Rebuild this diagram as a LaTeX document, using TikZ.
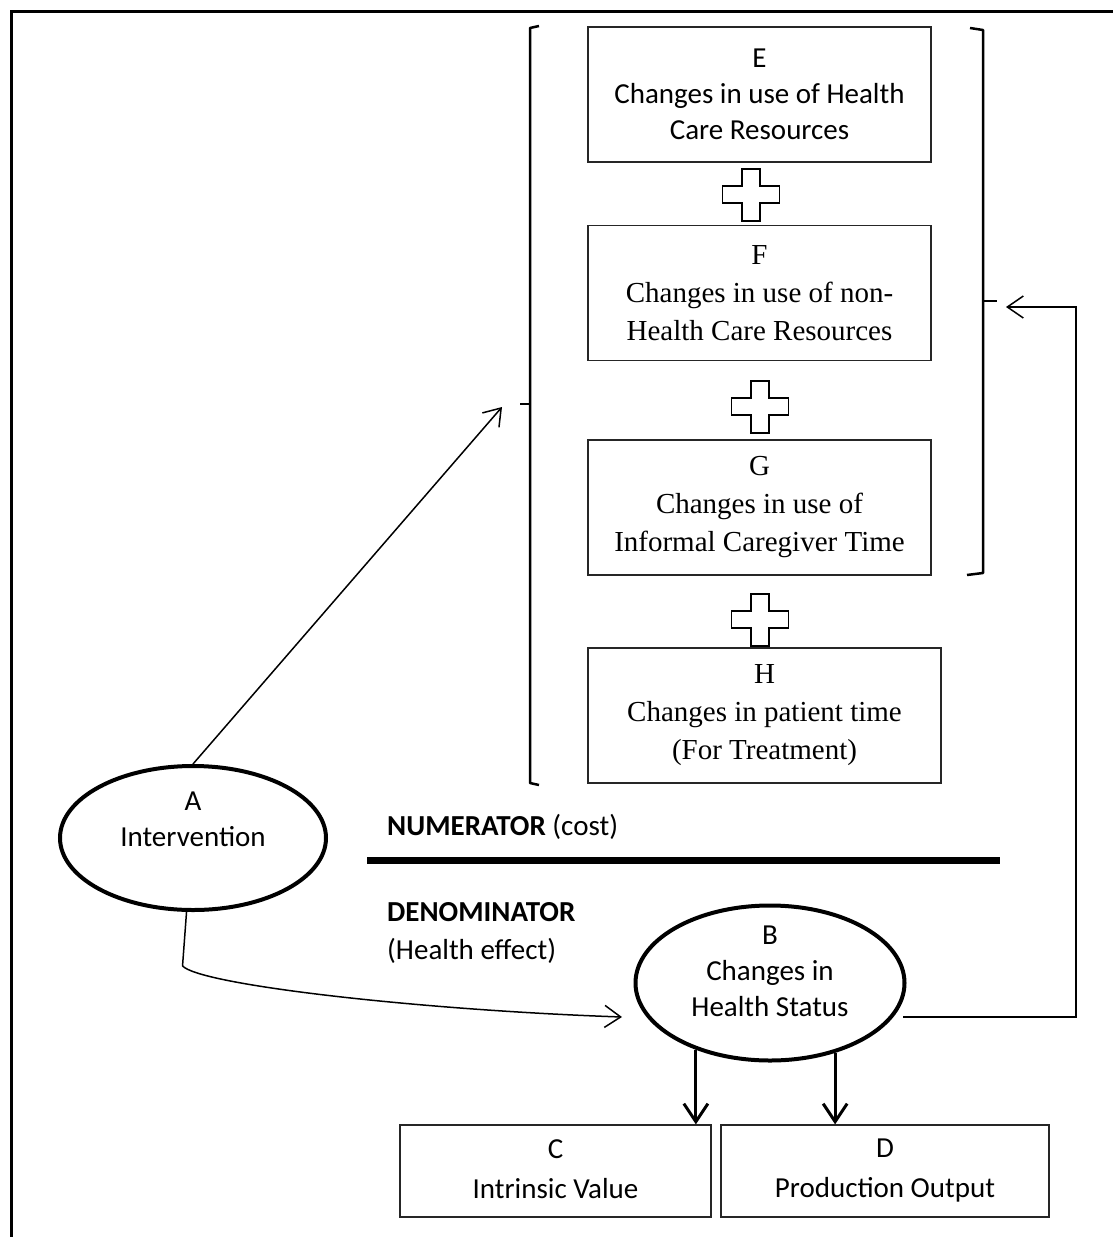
\documentclass[tikz,border=0pt]{standalone}
\usepackage{fontspec}
\setmainfont{Carlito}
\newfontfamily\timesfont{Liberation Serif}
\usetikzlibrary{arrows.meta,shapes.geometric,positioning}

\tikzset{
  box/.style={draw=black!85, line width=1.3pt, align=center, inner sep=0pt,
    minimum width=343pt, minimum height=135pt, font=\fontsize{29}{36}\selectfont},
  serifbox/.style={box, font=\timesfont\fontsize{29}{38}\selectfont},
  smallbox/.style={box, minimum height=92pt, font=\fontsize{29}{40}\selectfont,
    execute at end node=\vphantom{p}},
  oval/.style={draw, ellipse, line width=4pt, inner sep=0pt},
  ovaltext/.style={font=\fontsize{29}{36}\selectfont, align=center},
  note/.style={anchor=west, inner sep=0pt, font=\fontsize{29}{36}\selectfont},
  conn/.style={line width=1.5pt, -{Straight Barb[length=16pt,width=22pt]}},
  bigarrow/.style={line width=3pt, -{Straight Barb[length=18pt,width=24pt]}},
  bracket/.style={line width=2.5pt, line join=round},
  crosssign/.pic={
    \draw[line width=1.8pt] (-9,26) -- (9,26) -- (9,9) -- (28.5,9) -- (28.5,-8)
      -- (9,-8) -- (9,-26) -- (-9,-26) -- (-9,-8) -- (-28.5,-8) -- (-28.5,9)
      -- (-9,9) -- cycle;
  }
}

\begin{document}
\begin{tikzpicture}[x=1pt,y=1pt]
    \useasboundingbox (0,0) rectangle (1113,-1237);
    \draw[line width=3pt] (11,-1237) |- (1113,-11);

    \node[box] (E) at (759.5,-94.5) {E\\Changes in use of Health\\Care Resources};
    \node[serifbox] (F) at (759.5,-293) {F\\Changes in use of non-\\Health Care Resources};
    \node[serifbox] (G) at (759.5,-507.5) {G\\Changes in use of\\Informal Caregiver Time};
    \node[serifbox, minimum width=353pt] (H) at (764.5,-715.5) {H\\Changes in patient time\\(For Treatment)};
    \pic at (751,-195) {crosssign};
    \pic at (760,-407) {crosssign};
    \pic at (760,-620) {crosssign};

    \draw[bracket] (539,-26) -- (530,-28) -- (530,-783) -- (539,-785);
    \draw[bracket] (530,-404) -- (520,-404);
    \draw[bracket] (970,-28) -- (983,-30) -- (983,-573) -- (967,-575);
    \draw[bracket] (983,-301) -- (997,-301);
    \coordinate (costin) at (502,-407);
    \coordinate (loopin) at (1006,-307);

    \node[oval, minimum width=266pt, minimum height=144pt,
      label={[ovaltext, yshift=19pt]center:A\\Intervention}] (A) at (193,-838) {};
    \node[oval, minimum width=269pt, minimum height=155pt,
      label={[ovaltext, yshift=12pt]center:B\\Changes in\\Health Status}] (B) at (770,-983) {};

    \node[note] (num) at (387,-827) {\textbf{NUMERATOR} (cost)};
    \draw[line width=7pt] (367,-860) -- (1000,-860);
    \node[note] (den) at (387,-912) {\textbf{DENOMINATOR}};
    \node[note, below=16pt of den.south west, anchor=north west] (effect) {(Health effect)};

    \node[smallbox, minimum width=311pt] (C) at (555.5,-1171) {C\\Intrinsic Value};
    \node[smallbox, minimum width=328pt] (D) at (885,-1171) {D\\Production Output};

    \coordinate (Bin) at (622,-1017);
    \coordinate (Bout) at (903,-1017);
    \coordinate (turn) at (1076,-1017);

    \draw[conn] (A.north) -- (costin);
    \draw[conn] (A.265) -- ++(-4,-54) .. controls (200,-985) and (420,-1010) .. (Bin);
    \draw[conn] (Bout) -- (turn) |- (loopin);
    \draw[bigarrow] (B.222) -- (B.222 |- C.north);
    \draw[bigarrow] (B.313) -- (B.313 |- D.north);
\end{tikzpicture}
\end{document}
